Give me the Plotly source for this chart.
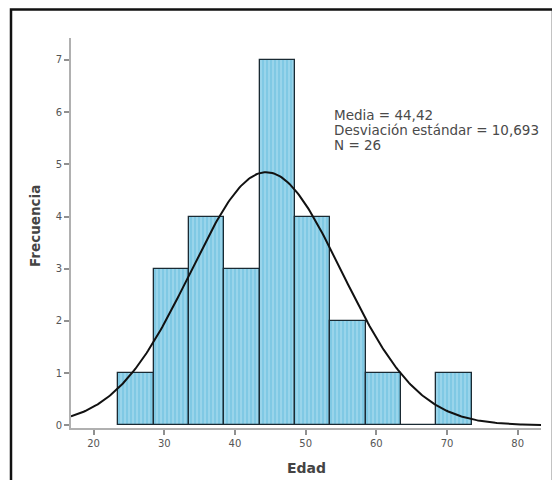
import numpy as np
import plotly.graph_objects as go

# Data
bin_centers = [26, 31, 36, 41, 46, 51, 56, 61, 66, 71]
counts = [1, 3, 4, 3, 7, 4, 2, 1, 0, 1]
bin_width = 5
mean_age = 44.42
sd_age = 10.693
n_total = 26
x_ticks = [20, 30, 40, 50, 60, 70, 80]
y_ticks = [0, 1, 2, 3, 4, 5, 6, 7]
stats_lines = ["Media = 44,42", "Desviación estándar = 10,693", "N = 26"]
x_title = "Edad"
y_title = "Frecuencia"

x_range = [16.8, 83.3]
y_range = [-0.05, 7.42]

# page offset of the figure (body margin)
OFF = 8
W, H = 560 - OFF, 480 - OFF
PL, PR, PT, PB = 71 - OFF, 541 - OFF, 38 - OFF, 428 - OFF  # plot area in figure px
PW, PH = PR - PL, PB - PT


def px2paper_x(px):
    return (px - OFF - PL) / PW


def px2paper_y(py):
    return (PB - (py - OFF)) / PH


# Normal curve from stated parameters
xc = np.linspace(x_range[0], x_range[1], 300)
yc = n_total * bin_width * np.exp(-0.5 * ((xc - mean_age) / sd_age) ** 2) / (sd_age * np.sqrt(2 * np.pi))

fig = go.Figure()
fig.add_trace(go.Bar(
    x=bin_centers, y=counts, width=bin_width,
    marker=dict(color="#80c9e4", line=dict(color="#1a2a33", width=1.3),
                pattern=dict(shape="|", fgcolor="#d4f0fa", size=4, solidity=0.3)),
    showlegend=False, hoverinfo="x+y",
))
fig.add_trace(go.Scatter(x=xc, y=yc, mode="lines", line=dict(color="#111111", width=2),
                         showlegend=False, hoverinfo="skip"))

axis_common = dict(showline=True, linecolor="#b0b0b0", linewidth=2, ticks="outside",
                   tickcolor="#909090", ticklen=5, tickwidth=1.5, showgrid=False, zeroline=False,
                   tickfont=dict(family="DejaVu Sans", size=10, color="#555555"))

fig.update_xaxes(range=x_range, tickvals=x_ticks, **axis_common)
fig.update_yaxes(range=y_range, tickvals=y_ticks, **axis_common)

# Axis titles
fig.add_annotation(x=px2paper_x(306), y=px2paper_y(468), xref="paper", yref="paper",
                   text="<b>%s</b>" % x_title, showarrow=False, xanchor="center", yanchor="middle",
                   font=dict(family="DejaVu Sans", size=14, color="#444444"))
fig.add_annotation(x=px2paper_x(35), y=px2paper_y(226), xref="paper", yref="paper",
                   text="<b>%s</b>" % y_title, showarrow=False, xanchor="center", yanchor="middle",
                   textangle=-90, font=dict(family="DejaVu Sans", size=13.5, color="#444444"))

for i, line in enumerate(stats_lines):
    fig.add_annotation(x=px2paper_x(332), y=px2paper_y(115 + 15 * i), xref="paper", yref="paper",
                       text=line, showarrow=False, xanchor="left", yanchor="middle",
                       font=dict(family="DejaVu Sans", size=13.5, color="#4a4a4a"))

fig.add_shape(type="rect", xref="paper", yref="paper",
              x0=px2paper_x(11), x1=px2paper_x(553),
              y0=px2paper_y(495), y1=px2paper_y(OFF + 1.5),
              line=dict(color="#111111", width=2.5), fillcolor="rgba(0,0,0,0)")

fig.update_layout(width=W, height=H, margin=dict(l=PL, r=W - PR, t=PT, b=H - PB),
                  plot_bgcolor="white", paper_bgcolor="white", bargap=0)

fig.write_html("out.html")
